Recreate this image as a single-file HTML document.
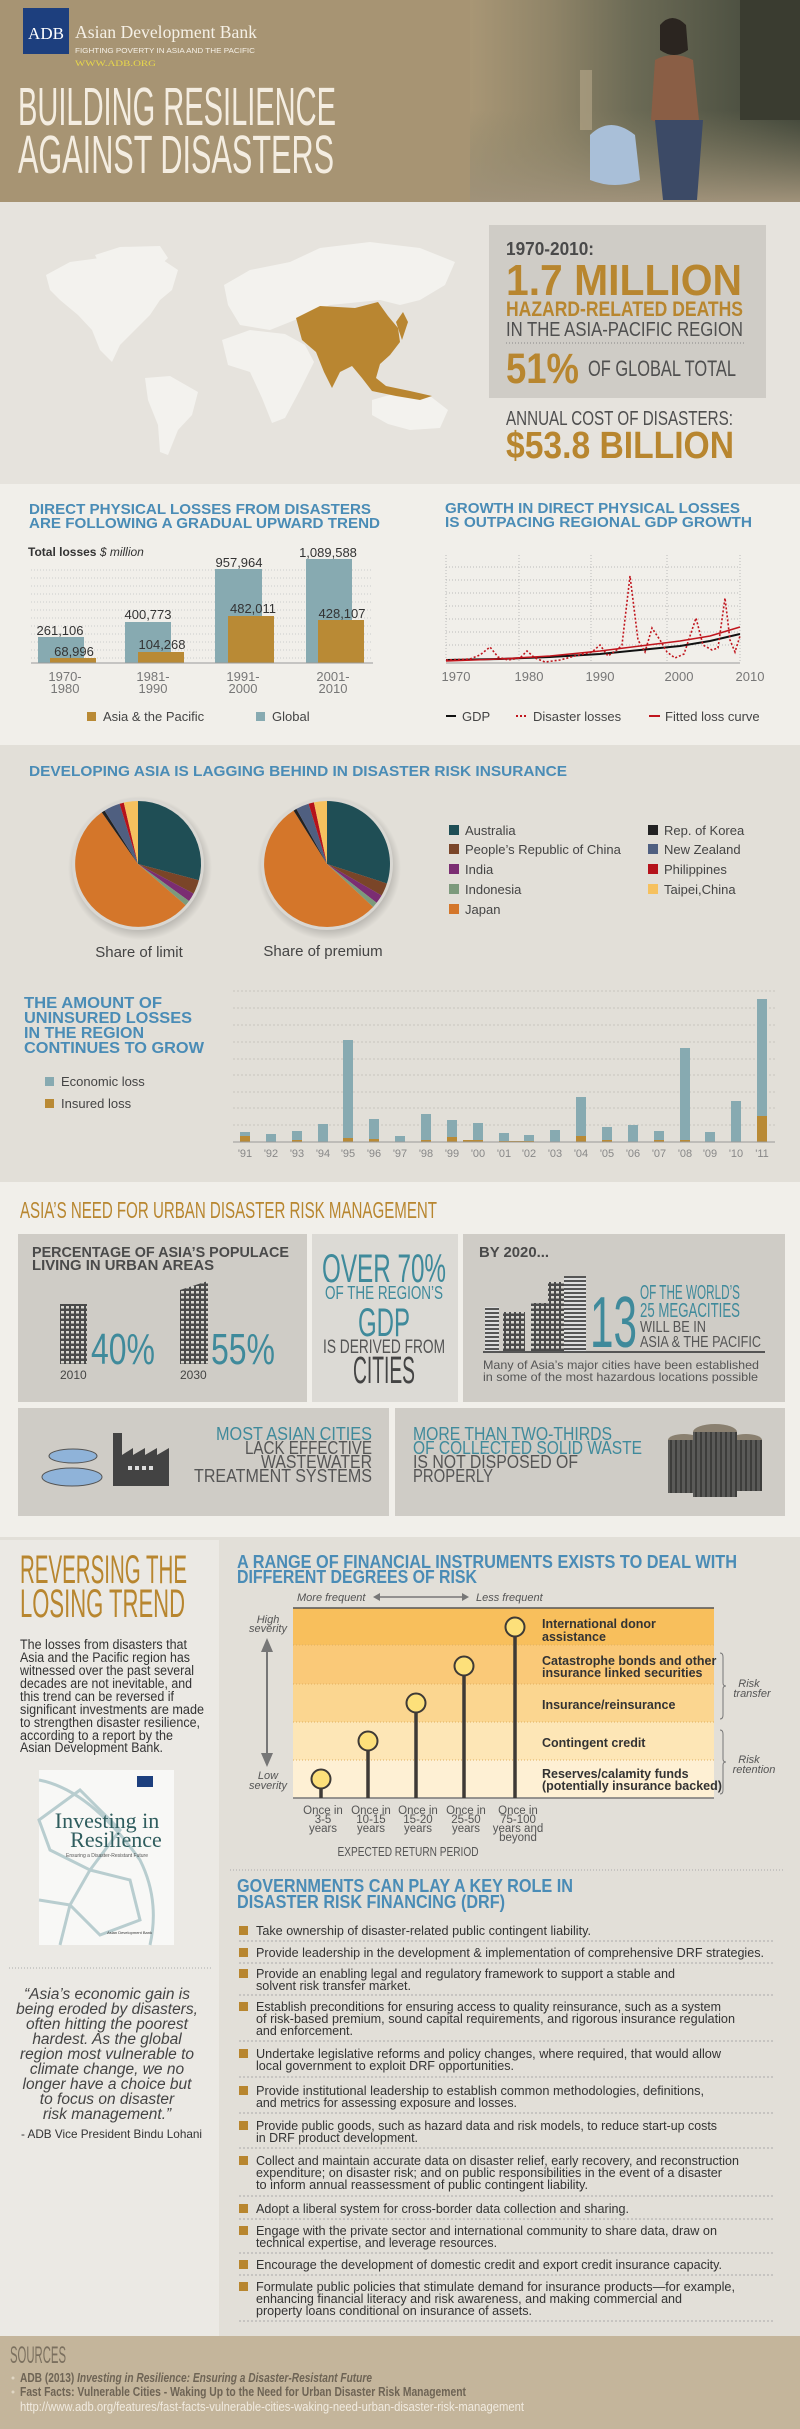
<!DOCTYPE html>
<html><head><meta charset="utf-8"><style>
html,body{margin:0;padding:0;background:#e6e3dd}
svg{display:block}
text{font-family:"Liberation Sans Narrow","Liberation Sans",sans-serif}
.b{font-weight:bold}
.blue{fill:#4a8cb6}
.teal{fill:#3f8a9b}
.gold{fill:#b8862f}
.g{fill:#555}
</style></head><body>
<svg width="800" height="2429" viewBox="0 0 800 2429" xmlns="http://www.w3.org/2000/svg">
<defs>
<linearGradient id="ph" x1="0" x2="1" y1="0" y2="0">
<stop offset="0" stop-color="#a89675"/><stop offset="0.25" stop-color="#8f8468"/><stop offset="0.5" stop-color="#6b6a55"/><stop offset="1" stop-color="#3e4438"/></linearGradient>
<linearGradient id="water" x1="0" x2="0" y1="0" y2="1"><stop offset="0" stop-color="#8a8468" stop-opacity="0"/><stop offset="1" stop-color="#a0927a"/></linearGradient>
<radialGradient id="shad"><stop offset="0.7" stop-color="#000" stop-opacity="0.35"/><stop offset="1" stop-color="#000" stop-opacity="0"/></radialGradient>
<pattern id="win" width="5" height="5" patternUnits="userSpaceOnUse"><rect width="5" height="5" fill="#4a4a4a"/><rect x="1" y="1" width="3" height="2.5" fill="#d8d6d0"/></pattern>
<pattern id="strip" width="5" height="4" patternUnits="userSpaceOnUse"><rect width="5" height="4" fill="#ddd"/><rect width="5" height="2" fill="#555"/></pattern>
<pattern id="can" width="5" height="5" patternUnits="userSpaceOnUse"><rect width="5" height="5" fill="#5a5a58"/><rect width="2" height="5" fill="#3d3d3b"/></pattern>
</defs>

<!-- HEADER -->
<rect x="0" y="0" width="800" height="202" fill="#a79473"/>
<rect x="470" y="0" width="330" height="202" fill="url(#ph)"/>
<rect x="470" y="110" width="330" height="92" fill="url(#water)"/>
<rect x="740" y="0" width="60" height="120" fill="#3a3c30"/>
<path d="M660 25 q12 -14 26 0 l2 25 q-14 10 -28 0z" fill="#2b2520"/>
<path d="M655 60 q18 -10 38 0 l6 60 q-25 10 -48 0z" fill="#8a5e45"/>
<path d="M655 120 l48 0 l-6 80 l-34 0z" fill="#3c4a66"/>
<path d="M590 135 q20 -20 45 0 l5 45 q-25 10 -50 0z" fill="#a9bfd8"/>
<rect x="580" y="70" width="12" height="60" fill="#b8a88a" opacity="0.6"/>
<rect x="23" y="8" width="46" height="46" fill="#1d3f7e"/>
<text x="46" y="39" style="font-family:'Liberation Serif',serif" font-size="17" fill="#fff" text-anchor="middle">ADB</text>
<text x="75" y="38" style="font-family:'Liberation Serif',serif" font-size="18" fill="#f5f0e6" textLength="182" lengthAdjust="spacingAndGlyphs">Asian Development Bank</text>
<text x="75" y="53" font-size="7.5" fill="#f5f0e6" textLength="180" lengthAdjust="spacingAndGlyphs">FIGHTING POVERTY IN ASIA AND THE PACIFIC</text>
<text x="75" y="66" style="font-family:'Liberation Serif',serif" font-size="8" fill="#e8d84a" textLength="81" lengthAdjust="spacingAndGlyphs">WWW.ADB.ORG</text>
<text x="18" y="125" font-size="54" fill="#f4ede1" textLength="318" lengthAdjust="spacingAndGlyphs">BUILDING RESILIENCE</text>
<text x="18" y="173" font-size="54" fill="#f4ede1" textLength="316" lengthAdjust="spacingAndGlyphs">AGAINST DISASTERS</text>

<!-- MAP SECTION -->
<rect x="0" y="202" width="800" height="282" fill="#e6e3dd"/>
<g fill="#f3f2ee">
<path d="M46 275 L70 262 L100 258 L130 262 L160 258 L178 270 L172 290 L160 300 L150 315 L135 330 L120 345 L112 362 L100 350 L92 330 L78 315 L60 300 L50 290z"/>
<path d="M95 255 L120 247 L160 246 L168 258 L150 275 L125 285 L105 275z"/>
<path d="M145 378 L170 376 L198 392 L192 415 L178 430 L168 455 L160 452 L158 425 L148 400z"/>
<path d="M224 285 L250 270 L290 262 L320 248 L370 242 L420 248 L455 262 L445 285 L420 300 L400 305 L380 300 L330 305 L300 318 L270 330 L240 325 L228 305z"/>
<path d="M222 340 L250 330 L285 334 L305 345 L314 362 L300 390 L285 418 L272 423 L262 398 L250 372 L228 365z"/>
<path d="M372 400 L400 392 L430 396 L448 410 L440 428 L410 430 L388 424 L372 415z"/>
</g>
<path d="M296 318 L320 306 L355 308 L378 302 L388 316 L398 328 L400 342 L390 355 L380 364 L376 378 L386 386 L410 391 L432 396 L420 400 L396 396 L372 391 L362 378 L352 366 L340 372 L332 388 L324 372 L316 352 L302 340z" fill="#b98631"/>
<path d="M396 322 L403 312 L408 322 L402 340z" fill="#b98631"/>
<rect x="489" y="225" width="277" height="173" fill="#cfccc6"/>
<text x="506" y="255" font-size="18" class="b" fill="#4a4a4a" textLength="88" lengthAdjust="spacingAndGlyphs">1970-2010:</text>
<text x="506" y="295" font-size="44" class="b gold" textLength="236" lengthAdjust="spacingAndGlyphs">1.7 MILLION</text>
<text x="506" y="316" font-size="21" class="b gold" textLength="237" lengthAdjust="spacingAndGlyphs">HAZARD-RELATED DEATHS</text>
<text x="506" y="336" font-size="20" fill="#4f4f4f" textLength="237" lengthAdjust="spacingAndGlyphs">IN THE ASIA-PACIFIC REGION</text>
<line x1="506" y1="343" x2="745" y2="343" stroke="#888" stroke-dasharray="1,2"/>
<text x="506" y="383" font-size="43" class="b gold" textLength="73" lengthAdjust="spacingAndGlyphs">51%</text>
<text x="588" y="376" font-size="22" fill="#4f4f4f" textLength="148" lengthAdjust="spacingAndGlyphs">OF GLOBAL TOTAL</text>
<text x="506" y="425" font-size="20" fill="#4f4f4f" textLength="227" lengthAdjust="spacingAndGlyphs">ANNUAL COST OF DISASTERS:</text>
<text x="506" y="458" font-size="38" class="b gold" textLength="228" lengthAdjust="spacingAndGlyphs">$53.8 BILLION</text>

<!-- CHARTS SECTION -->
<rect x="0" y="484" width="800" height="261" fill="#f1efea"/>
<text x="29" y="514" font-size="15" class="b blue" textLength="342" lengthAdjust="spacingAndGlyphs">DIRECT PHYSICAL LOSSES FROM DISASTERS</text>
<text x="29" y="528" font-size="15" class="b blue" textLength="351" lengthAdjust="spacingAndGlyphs">ARE FOLLOWING A GRADUAL UPWARD TREND</text>
<text x="445" y="513" font-size="15" class="b blue" textLength="295" lengthAdjust="spacingAndGlyphs">GROWTH IN DIRECT PHYSICAL LOSSES</text>
<text x="445" y="527" font-size="15" class="b blue" textLength="307" lengthAdjust="spacingAndGlyphs">IS OUTPACING REGIONAL GDP GROWTH</text>
<text x="28" y="556" font-size="12" class="b" fill="#333">Total losses <tspan font-style="italic" font-weight="normal">$ million</tspan></text>
<g stroke="#ccc" stroke-dasharray="1,2">
<line x1="31" x2="373" y1="570" y2="570"/><line x1="31" x2="373" y1="578" y2="578"/><line x1="31" x2="373" y1="586" y2="586"/><line x1="31" x2="373" y1="594" y2="594"/><line x1="31" x2="373" y1="602" y2="602"/><line x1="31" x2="373" y1="610" y2="610"/><line x1="31" x2="373" y1="618" y2="618"/><line x1="31" x2="373" y1="626" y2="626"/><line x1="31" x2="373" y1="634" y2="634"/><line x1="31" x2="373" y1="642" y2="642"/><line x1="31" x2="373" y1="650" y2="650"/><line x1="31" x2="373" y1="658" y2="658"/>
</g>
<g fill="#87aab1"><rect x="38" y="637" width="46" height="26"/><rect x="125" y="622" width="46" height="41"/><rect x="215" y="569" width="47" height="94"/><rect x="306" y="559" width="46" height="104"/></g>
<g fill="#b98a35"><rect x="50" y="658" width="46" height="5"/><rect x="138" y="652" width="46" height="11"/><rect x="228" y="616" width="46" height="47"/><rect x="318" y="620" width="46" height="43"/></g>
<line x1="31" x2="373" y1="663" y2="663" stroke="#999"/>
<g font-size="13" fill="#333" text-anchor="middle">
<text x="60" y="635">261,106</text><text x="74" y="656">68,996</text><text x="148" y="619">400,773</text><text x="162" y="649">104,268</text><text x="239" y="567">957,964</text><text x="253" y="613">482,011</text><text x="328" y="557">1,089,588</text><text x="342" y="618">428,107</text>
</g>
<g font-size="13" fill="#777" text-anchor="middle">
<text x="65" y="681">1970-</text><text x="65" y="693">1980</text><text x="153" y="681">1981-</text><text x="153" y="693">1990</text><text x="243" y="681">1991-</text><text x="243" y="693">2000</text><text x="333" y="681">2001-</text><text x="333" y="693">2010</text>
</g>
<rect x="87" y="712" width="9" height="9" fill="#b98a35"/><text x="103" y="721" font-size="13" fill="#444">Asia &amp; the Pacific</text>
<rect x="256" y="712" width="9" height="9" fill="#87aab1"/><text x="272" y="721" font-size="13" fill="#444">Global</text>
<g stroke="#bbb" stroke-dasharray="1,2">
<line x1="446" x2="740" y1="567" y2="567"/><line x1="446" x2="740" y1="580" y2="580"/><line x1="446" x2="740" y1="593" y2="593"/><line x1="446" x2="740" y1="606" y2="606"/><line x1="446" x2="740" y1="619" y2="619"/><line x1="446" x2="740" y1="632" y2="632"/><line x1="446" x2="740" y1="645" y2="645"/>
<line x1="446" x2="446" y1="555" y2="663"/><line x1="519" x2="519" y1="555" y2="663"/><line x1="591" x2="591" y1="555" y2="663"/><line x1="667" x2="667" y1="555" y2="663"/><line x1="740" x2="740" y1="555" y2="663"/>
</g>
<line x1="446" x2="740" y1="663" y2="663" stroke="#999"/>
<path d="M446 660 L500 659 L550 657 L600 654 L640 650 L680 646 L710 641 L740 634" fill="none" stroke="#111" stroke-width="2"/>
<path d="M446 661 L500 659 L550 656 L600 651 L640 646 L680 641 L710 636 L740 627" fill="none" stroke="#c0151d" stroke-width="1.6"/>
<path d="M446 660 L470 659 L480 655 L490 647 L498 657 L508 660 L520 658 L527 651 L535 658 L545 662 L560 660 L575 656 L592 652 L600 645 L608 656 L618 649 L622 645 L630 576 L638 640 L645 652 L652 628 L660 640 L667 652 L675 658 L684 654 L696 618 L703 645 L712 650 L718 648 L725 598 L730 640 L735 652 L740 636" fill="none" stroke="#c0151d" stroke-width="1.6" stroke-dasharray="2,2"/>
<g font-size="13" fill="#777" text-anchor="middle"><text x="456" y="681">1970</text><text x="529" y="681">1980</text><text x="600" y="681">1990</text><text x="679" y="681">2000</text><text x="750" y="681">2010</text></g>
<line x1="446" x2="456" y1="716" y2="716" stroke="#111" stroke-width="2"/><text x="462" y="721" font-size="13" fill="#444">GDP</text>
<line x1="516" x2="527" y1="716" y2="716" stroke="#c0151d" stroke-width="2" stroke-dasharray="2,2"/><text x="533" y="721" font-size="13" fill="#444">Disaster losses</text>
<line x1="649" x2="660" y1="716" y2="716" stroke="#c0151d" stroke-width="2"/><text x="665" y="721" font-size="13" fill="#444">Fitted loss curve</text>

<!-- INSURANCE SECTION -->
<rect x="0" y="745" width="800" height="437" fill="#e2dfd8"/>
<text x="29" y="776" font-size="15" class="b blue" textLength="538" lengthAdjust="spacingAndGlyphs">DEVELOPING ASIA IS LAGGING BEHIND IN DISASTER RISK INSURANCE</text>
<circle cx="140" cy="868" r="72" fill="url(#shad)"/>
<circle cx="329" cy="868" r="72" fill="url(#shad)"/>
<circle cx="138" cy="864" r="66" fill="#d9d7d2"/>
<circle cx="327" cy="864" r="66" fill="#d9d7d2"/>
<g>
<path d="M138 864 L138 801 A63 63 0 0 1 198.9 880.3Z" fill="#1f4e55"/>
<path d="M138 864 L198.9 880.3 A63 63 0 0 1 193.6 893.6Z" fill="#7a4528"/>
<path d="M138 864 L193.6 893.6 A63 63 0 0 1 189 901Z" fill="#7b2d72"/>
<path d="M138 864 L189 901 A63 63 0 0 1 185.6 905.3Z" fill="#7c9a7c"/>
<path d="M138 864 L185.6 905.3 A63 63 0 1 1 101.8 812.4Z" fill="#d4762a"/>
<path d="M138 864 L101.8 812.4 A63 63 0 0 1 104.6 810.6Z" fill="#222"/>
<path d="M138 864 L104.6 810.6 A63 63 0 0 1 119.6 803.8Z" fill="#4f5f80"/>
<path d="M138 864 L119.6 803.8 A63 63 0 0 1 123.8 802.6Z" fill="#b5121b"/>
<path d="M138 864 L123.8 802.6 A63 63 0 0 1 138 801Z" fill="#f6c15e"/>
</g>
<g>
<path d="M327 864 L327 801 A63 63 0 0 1 386.9 883.5Z" fill="#1f4e55"/>
<path d="M327 864 L386.9 883.5 A63 63 0 0 1 381.6 895.5Z" fill="#7a4528"/>
<path d="M327 864 L381.6 895.5 A63 63 0 0 1 376.6 902.8Z" fill="#7b2d72"/>
<path d="M327 864 L376.6 902.8 A63 63 0 0 1 373.1 907Z" fill="#7c9a7c"/>
<path d="M327 864 L373.1 907 A63 63 0 1 1 293.6 810.6Z" fill="#d4762a"/>
<path d="M327 864 L293.6 810.6 A63 63 0 0 1 296.4 808.9Z" fill="#222"/>
<path d="M327 864 L296.4 808.9 A63 63 0 0 1 308.6 803.8Z" fill="#4f5f80"/>
<path d="M327 864 L308.6 803.8 A63 63 0 0 1 313.9 802.4Z" fill="#b5121b"/>
<path d="M327 864 L313.9 802.4 A63 63 0 0 1 327 801Z" fill="#f6c15e"/>
</g>
<text x="139" y="957" font-size="15" fill="#444" text-anchor="middle">Share of limit</text>
<text x="323" y="956" font-size="15" fill="#444" text-anchor="middle">Share of premium</text>
<g font-size="13" fill="#444">
<rect x="449" y="825" width="10" height="10" fill="#1f4e55"/><text x="465" y="835">Australia</text>
<rect x="449" y="844" width="10" height="10" fill="#7a4528"/><text x="465" y="854">People’s Republic of China</text>
<rect x="449" y="864" width="10" height="10" fill="#7b2d72"/><text x="465" y="874">India</text>
<rect x="449" y="884" width="10" height="10" fill="#7c9a7c"/><text x="465" y="894">Indonesia</text>
<rect x="449" y="904" width="10" height="10" fill="#d4762a"/><text x="465" y="914">Japan</text>
<rect x="648" y="825" width="10" height="10" fill="#222"/><text x="664" y="835">Rep. of Korea</text>
<rect x="648" y="844" width="10" height="10" fill="#4f5f80"/><text x="664" y="854">New Zealand</text>
<rect x="648" y="864" width="10" height="10" fill="#b5121b"/><text x="664" y="874">Philippines</text>
<rect x="648" y="884" width="10" height="10" fill="#f6c15e"/><text x="664" y="894">Taipei,China</text>
</g>
<text x="24" y="1008" font-size="16" class="b blue" textLength="138" lengthAdjust="spacingAndGlyphs">THE AMOUNT OF</text>
<text x="24" y="1023" font-size="16" class="b blue" textLength="168" lengthAdjust="spacingAndGlyphs">UNINSURED LOSSES</text>
<text x="24" y="1038" font-size="16" class="b blue" textLength="120" lengthAdjust="spacingAndGlyphs">IN THE REGION</text>
<text x="24" y="1053" font-size="16" class="b blue" textLength="180" lengthAdjust="spacingAndGlyphs">CONTINUES TO GROW</text>
<rect x="45" y="1077" width="9" height="9" fill="#87aab1"/><text x="61" y="1086" font-size="13" fill="#444">Economic loss</text>
<rect x="45" y="1099" width="9" height="9" fill="#b98a35"/><text x="61" y="1108" font-size="13" fill="#444">Insured loss</text>
<g stroke="#c8c5be" stroke-dasharray="2,2">
<line x1="233" x2="775" y1="991" y2="991"/><line x1="233" x2="775" y1="1008" y2="1008"/><line x1="233" x2="775" y1="1025" y2="1025"/><line x1="233" x2="775" y1="1042" y2="1042"/><line x1="233" x2="775" y1="1059" y2="1059"/><line x1="233" x2="775" y1="1075" y2="1075"/><line x1="233" x2="775" y1="1092" y2="1092"/><line x1="233" x2="775" y1="1108" y2="1108"/><line x1="233" x2="775" y1="1125" y2="1125"/>
</g>
<g fill="#87aab1">
<rect x="240" y="1132" width="10" height="10"/><rect x="266" y="1134" width="10" height="8"/><rect x="292" y="1131" width="10" height="11"/><rect x="318" y="1124" width="10" height="18"/><rect x="343" y="1040" width="10" height="102"/><rect x="369" y="1119" width="10" height="23"/><rect x="395" y="1136" width="10" height="6"/><rect x="421" y="1114" width="10" height="28"/><rect x="447" y="1120" width="10" height="22"/><rect x="473" y="1123" width="10" height="19"/><rect x="499" y="1133" width="10" height="9"/><rect x="524" y="1135" width="10" height="7"/><rect x="550" y="1130" width="10" height="12"/><rect x="576" y="1097" width="10" height="45"/><rect x="602" y="1127" width="10" height="15"/><rect x="628" y="1125" width="10" height="17"/><rect x="654" y="1131" width="10" height="11"/><rect x="680" y="1048" width="10" height="94"/><rect x="705" y="1132" width="10" height="10"/><rect x="731" y="1101" width="10" height="41"/><rect x="757" y="999" width="10" height="143"/>
</g>
<g fill="#b98a35">
<rect x="240" y="1136" width="10" height="6"/><rect x="292" y="1140" width="10" height="2"/><rect x="343" y="1138" width="10" height="4"/><rect x="369" y="1139" width="10" height="3"/><rect x="421" y="1140" width="10" height="2"/><rect x="447" y="1137" width="10" height="5"/><rect x="463" y="1140" width="20" height="2"/><rect x="499" y="1141" width="35" height="1.5"/><rect x="576" y="1136" width="10" height="6"/><rect x="602" y="1140" width="10" height="2"/><rect x="654" y="1140" width="10" height="2"/><rect x="680" y="1140" width="10" height="2"/><rect x="757" y="1116" width="10" height="26"/>
</g>
<line x1="233" x2="775" y1="1142" y2="1142" stroke="#999"/>
<g font-size="11" fill="#888" text-anchor="middle">
<text x="245" y="1157">'91</text><text x="271" y="1157">'92</text><text x="297" y="1157">'93</text><text x="323" y="1157">'94</text><text x="348" y="1157">'95</text><text x="374" y="1157">'96</text><text x="400" y="1157">'97</text><text x="426" y="1157">'98</text><text x="452" y="1157">'99</text><text x="478" y="1157">'00</text><text x="504" y="1157">'01</text><text x="529" y="1157">'02</text><text x="555" y="1157">'03</text><text x="581" y="1157">'04</text><text x="607" y="1157">'05</text><text x="633" y="1157">'06</text><text x="659" y="1157">'07</text><text x="685" y="1157">'08</text><text x="710" y="1157">'09</text><text x="736" y="1157">'10</text><text x="762" y="1157">'11</text>
</g>

<!-- URBAN SECTION -->
<rect x="0" y="1182" width="800" height="355" fill="#f1efea"/>
<text x="20" y="1218" font-size="23" class="gold" textLength="417" lengthAdjust="spacingAndGlyphs">ASIA’S NEED FOR URBAN DISASTER RISK MANAGEMENT</text>
<rect x="18" y="1234" width="289" height="168" fill="#cfccc6"/>
<rect x="312" y="1234" width="146" height="168" fill="#dcdad5"/>
<rect x="463" y="1234" width="322" height="168" fill="#cfccc6"/>
<rect x="18" y="1408" width="371" height="108" fill="#cfccc6"/>
<rect x="395" y="1408" width="390" height="108" fill="#cfccc6"/>
<text x="32" y="1257" font-size="15" class="b" fill="#4a4a4a" textLength="257" lengthAdjust="spacingAndGlyphs">PERCENTAGE OF ASIA’S POPULACE</text>
<text x="32" y="1270" font-size="15" class="b" fill="#4a4a4a" textLength="182" lengthAdjust="spacingAndGlyphs">LIVING IN URBAN AREAS</text>
<rect x="60" y="1304" width="27" height="60" fill="url(#win)"/>
<path d="M180 1290 L208 1281 L208 1364 L180 1364Z" fill="url(#win)"/>
<text x="91" y="1364" font-size="44" class="teal" textLength="64" lengthAdjust="spacingAndGlyphs">40%</text>
<text x="211" y="1364" font-size="44" class="teal" textLength="64" lengthAdjust="spacingAndGlyphs">55%</text>
<text x="60" y="1379" font-size="12" fill="#444">2010</text><text x="180" y="1379" font-size="12" fill="#444">2030</text>
<text x="384" y="1282" font-size="40" class="teal" text-anchor="middle" textLength="124" lengthAdjust="spacingAndGlyphs">OVER 70%</text>
<text x="384" y="1299" font-size="18" class="teal" text-anchor="middle" textLength="118" lengthAdjust="spacingAndGlyphs">OF THE REGION’S</text>
<text x="384" y="1336" font-size="40" class="teal" text-anchor="middle" textLength="52" lengthAdjust="spacingAndGlyphs">GDP</text>
<text x="384" y="1353" font-size="19" fill="#555" text-anchor="middle" textLength="122" lengthAdjust="spacingAndGlyphs">IS DERIVED FROM</text>
<text x="384" y="1383" font-size="38" fill="#444" text-anchor="middle" textLength="62" lengthAdjust="spacingAndGlyphs">CITIES</text>
<text x="479" y="1257" font-size="15" class="b" fill="#4a4a4a" textLength="70" lengthAdjust="spacingAndGlyphs">BY 2020...</text>
<rect x="485" y="1307" width="14" height="45" fill="url(#strip)"/>
<rect x="503" y="1312" width="22" height="40" fill="url(#win)"/>
<rect x="531" y="1303" width="17" height="49" fill="url(#win)"/>
<rect x="548" y="1282" width="16" height="70" fill="url(#win)"/>
<rect x="564" y="1276" width="22" height="76" fill="url(#strip)"/>
<line x1="483" x2="765" y1="1352" y2="1352" stroke="#555" stroke-width="2"/>
<text x="590" y="1347" font-size="72" class="teal" textLength="47" lengthAdjust="spacingAndGlyphs">13</text>
<text x="640" y="1299" font-size="20" class="teal" textLength="100" lengthAdjust="spacingAndGlyphs">OF THE WORLD’S</text>
<text x="640" y="1317" font-size="20" class="teal" textLength="100" lengthAdjust="spacingAndGlyphs">25 MEGACITIES</text>
<text x="640" y="1332" font-size="16" fill="#555" textLength="66" lengthAdjust="spacingAndGlyphs">WILL BE IN</text>
<text x="640" y="1347" font-size="16" fill="#555" textLength="121" lengthAdjust="spacingAndGlyphs">ASIA &amp; THE PACIFIC</text>
<text x="483" y="1369" font-size="12" fill="#555" textLength="276" lengthAdjust="spacingAndGlyphs">Many of Asia’s major cities have been established</text>
<text x="483" y="1381" font-size="12" fill="#555" textLength="275" lengthAdjust="spacingAndGlyphs">in some of the most hazardous locations possible</text>
<ellipse cx="73" cy="1456" rx="24" ry="7" fill="#8fb3d9" stroke="#555" stroke-width="1"/>
<ellipse cx="72" cy="1477" rx="30" ry="9" fill="#8fb3d9" stroke="#555" stroke-width="1"/>
<path d="M113 1433 L122 1433 L122 1455 L133 1448 L133 1455 L145 1448 L145 1455 L157 1448 L157 1455 L169 1448 L169 1486 L113 1486Z" fill="#434343"/>
<rect x="128" y="1466" width="4" height="4" fill="#ddd"/><rect x="135" y="1466" width="4" height="4" fill="#ddd"/><rect x="142" y="1466" width="4" height="4" fill="#ddd"/><rect x="149" y="1466" width="4" height="4" fill="#ddd"/>
<text x="372" y="1440" font-size="18" class="teal" text-anchor="end" textLength="156" lengthAdjust="spacingAndGlyphs">MOST ASIAN CITIES</text>
<text x="372" y="1454" font-size="18" fill="#555" text-anchor="end" textLength="127" lengthAdjust="spacingAndGlyphs">LACK EFFECTIVE</text>
<text x="372" y="1468" font-size="18" fill="#555" text-anchor="end" textLength="111" lengthAdjust="spacingAndGlyphs">WASTEWATER</text>
<text x="372" y="1482" font-size="18" fill="#555" text-anchor="end" textLength="178" lengthAdjust="spacingAndGlyphs">TREATMENT SYSTEMS</text>
<text x="413" y="1440" font-size="18" class="teal" textLength="199" lengthAdjust="spacingAndGlyphs">MORE THAN TWO-THIRDS</text>
<text x="413" y="1454" font-size="18" class="teal" textLength="229" lengthAdjust="spacingAndGlyphs">OF COLLECTED SOLID WASTE</text>
<text x="413" y="1468" font-size="18" fill="#555" textLength="165" lengthAdjust="spacingAndGlyphs">IS NOT DISPOSED OF</text>
<text x="413" y="1482" font-size="18" fill="#555" textLength="80" lengthAdjust="spacingAndGlyphs">PROPERLY</text>
<ellipse cx="684" cy="1440" rx="16" ry="6" fill="#8a8070"/>
<ellipse cx="746" cy="1440" rx="16" ry="6" fill="#8a8070"/>
<rect x="668" y="1440" width="32" height="53" fill="url(#can)"/>
<rect x="730" y="1440" width="32" height="51" fill="url(#can)"/>
<ellipse cx="715" cy="1432" rx="22" ry="8" fill="#8a8070"/>
<rect x="693" y="1432" width="44" height="65" fill="url(#can)"/>

<!-- REVERSING SECTION -->
<rect x="0" y="1537" width="800" height="800" fill="#e2dfd8"/>
<rect x="0" y="1540" width="219" height="797" fill="#ebe9e4"/>
<text x="20" y="1583" font-size="40" class="gold" textLength="167" lengthAdjust="spacingAndGlyphs">REVERSING THE</text>
<text x="20" y="1617" font-size="40" class="gold" textLength="165" lengthAdjust="spacingAndGlyphs">LOSING TREND</text>
<g font-size="13.5" fill="#333">
<text x="20" y="1649" textLength="167" lengthAdjust="spacingAndGlyphs">The losses from disasters that</text>
<text x="20" y="1662" textLength="170" lengthAdjust="spacingAndGlyphs">Asia and the Pacific region has</text>
<text x="20" y="1675" textLength="174" lengthAdjust="spacingAndGlyphs">witnessed over the past several</text>
<text x="20" y="1688" textLength="172" lengthAdjust="spacingAndGlyphs">decades are not inevitable, and</text>
<text x="20" y="1701" textLength="154" lengthAdjust="spacingAndGlyphs">this trend can be reversed if</text>
<text x="20" y="1714" textLength="184" lengthAdjust="spacingAndGlyphs">significant investments are made</text>
<text x="20" y="1727" textLength="180" lengthAdjust="spacingAndGlyphs">to strengthen disaster resilience,</text>
<text x="20" y="1740" textLength="153" lengthAdjust="spacingAndGlyphs">according to a report by the</text>
<text x="20" y="1752" textLength="143" lengthAdjust="spacingAndGlyphs">Asian Development Bank.</text>
</g>
<rect x="39" y="1770" width="135" height="175" fill="#f8f8f6"/>
<g fill="none" stroke="#a9c3c6" stroke-width="3" opacity="0.8">
<path d="M39 1780 Q90 1790 140 1860 Q160 1900 150 1945"/>
<path d="M39 1820 L80 1790 L120 1830 L90 1870 L50 1850Z"/>
<path d="M90 1870 L130 1880 L140 1920 L100 1935 L70 1905Z"/>
<path d="M39 1900 L70 1905 L60 1945"/>
</g>
<rect x="137" y="1776" width="16" height="11" fill="#1d3f7e"/>
<text x="107" y="1828" style="font-family:'Liberation Serif',serif" font-size="22" fill="#2f5d5e" text-anchor="middle">Investing in</text>
<text x="116" y="1847" style="font-family:'Liberation Serif',serif" font-size="22" fill="#2f5d5e" text-anchor="middle">Resilience</text>
<text x="107" y="1857" font-size="5" fill="#555" text-anchor="middle">Ensuring a Disaster-Resistant Future</text>
<text x="152" y="1934" font-size="4" fill="#333" text-anchor="end">Asian Development Bank</text>
<line x1="9" x2="213" y1="1968" y2="1968" stroke="#aaa" stroke-dasharray="1,2"/>
<g font-size="15.5" font-style="italic" fill="#444" text-anchor="middle">
<text x="107" y="1999">“Asia’s economic gain is</text>
<text x="107" y="2014">being eroded by disasters,</text>
<text x="107" y="2029">often hitting the poorest</text>
<text x="107" y="2044">hardest. As the global</text>
<text x="107" y="2059">region most vulnerable to</text>
<text x="107" y="2074">climate change, we no</text>
<text x="107" y="2089">longer have a choice but</text>
<text x="107" y="2104">to focus on disaster</text>
<text x="107" y="2119">risk management.”</text>
</g>
<text x="21" y="2138" font-size="12" fill="#333" textLength="181" lengthAdjust="spacingAndGlyphs">- ADB Vice President Bindu Lohani</text>

<text x="237" y="1568" font-size="18" class="b blue" textLength="500" lengthAdjust="spacingAndGlyphs">A RANGE OF FINANCIAL INSTRUMENTS EXISTS TO DEAL WITH</text>
<text x="237" y="1583" font-size="18" class="b blue" textLength="240" lengthAdjust="spacingAndGlyphs">DIFFERENT DEGREES OF RISK</text>
<text x="297" y="1601" font-size="11" font-style="italic" fill="#555">More frequent</text>
<text x="476" y="1601" font-size="11" font-style="italic" fill="#555">Less frequent</text>
<line x1="378" x2="464" y1="1597" y2="1597" stroke="#777" stroke-width="1.5"/>
<path d="M373 1597 L380 1593 L380 1601Z M469 1597 L462 1593 L462 1601Z" fill="#777"/>
<rect x="293" y="1608" width="421" height="37" fill="#f8bf5c"/>
<rect x="293" y="1645" width="421" height="39" fill="#fac978"/>
<rect x="293" y="1684" width="421" height="38" fill="#fbd690"/>
<rect x="293" y="1722" width="421" height="38" fill="#fde6b6"/>
<rect x="293" y="1760" width="421" height="38" fill="#fef0d4"/>
<g stroke="#e0b060" stroke-dasharray="1,2"><line x1="293" x2="714" y1="1645" y2="1645"/><line x1="293" x2="714" y1="1684" y2="1684"/><line x1="293" x2="714" y1="1722" y2="1722"/><line x1="293" x2="714" y1="1760" y2="1760"/></g>
<line x1="293" x2="714" y1="1608" y2="1608" stroke="#555" stroke-width="1.5"/>
<line x1="293" x2="714" y1="1798" y2="1798" stroke="#777" stroke-width="1.5"/>
<g stroke="#3e3a36" stroke-width="3.5"><line x1="321" x2="321" y1="1779" y2="1798"/><line x1="368" x2="368" y1="1741" y2="1798"/><line x1="416" x2="416" y1="1703" y2="1798"/><line x1="464" x2="464" y1="1666" y2="1798"/><line x1="515" x2="515" y1="1627" y2="1798"/></g>
<g fill="#fde07a" stroke="#3e3a36" stroke-width="2"><circle cx="321" cy="1779" r="9.5"/><circle cx="368" cy="1741" r="9.5"/><circle cx="416" cy="1703" r="9.5"/><circle cx="464" cy="1666" r="9.5"/><circle cx="515" cy="1627" r="9.5"/></g>
<g font-size="12.5" class="b" fill="#333">
<text x="542" y="1628">International donor</text><text x="542" y="1641">assistance</text>
<text x="542" y="1665">Catastrophe bonds and other</text><text x="542" y="1677">insurance linked securities</text>
<text x="542" y="1709">Insurance/reinsurance</text>
<text x="542" y="1747">Contingent credit</text>
<text x="542" y="1778">Reserves/calamity funds</text><text x="542" y="1790">(potentially insurance backed)</text>
</g>
<line x1="267" x2="267" y1="1648" y2="1757" stroke="#777" stroke-width="2"/>
<path d="M267 1638 L261 1652 L273 1652Z M267 1767 L261 1753 L273 1753Z" fill="#777"/>
<g font-size="11" font-style="italic" fill="#555" text-anchor="middle"><text x="268" y="1623">High</text><text x="268" y="1632">severity</text><text x="268" y="1779">Low</text><text x="268" y="1789">severity</text>
<text x="749" y="1687">Risk</text><text x="752" y="1697">transfer</text><text x="749" y="1763">Risk</text><text x="754" y="1773">retention</text></g>
<path d="M720 1653 q3 0 3 4 v26 q0 3 3 3 q-3 0 -3 3 v26 q0 4 -3 4" fill="none" stroke="#777"/>
<path d="M720 1730 q3 0 3 4 v25 q0 3 3 3 q-3 0 -3 3 v25 q0 4 -3 4" fill="none" stroke="#777"/>
<g font-size="11.5" fill="#555" text-anchor="middle">
<text x="323" y="1814">Once in</text><text x="323" y="1823">3-5</text><text x="323" y="1832">years</text>
<text x="371" y="1814">Once in</text><text x="371" y="1823">10-15</text><text x="371" y="1832">years</text>
<text x="418" y="1814">Once in</text><text x="418" y="1823">15-20</text><text x="418" y="1832">years</text>
<text x="466" y="1814">Once in</text><text x="466" y="1823">25-50</text><text x="466" y="1832">years</text>
<text x="518" y="1814">Once in</text><text x="518" y="1823">75-100</text><text x="518" y="1832">years and</text><text x="518" y="1841">beyond</text>
<text x="408" y="1856" font-size="13" textLength="141" lengthAdjust="spacingAndGlyphs">EXPECTED RETURN PERIOD</text>
</g>
<line x1="230" x2="785" y1="1870" y2="1870" stroke="#aaa" stroke-dasharray="1,2"/>
<text x="237" y="1892" font-size="18" class="b blue" textLength="336" lengthAdjust="spacingAndGlyphs">GOVERNMENTS CAN PLAY A KEY ROLE IN</text>
<text x="237" y="1908" font-size="18" class="b blue" textLength="268" lengthAdjust="spacingAndGlyphs">DISASTER RISK FINANCING (DRF)</text>
<g fill="#b8862f">
<rect x="239" y="1926" width="9" height="9"/><rect x="239" y="1948" width="9" height="9"/><rect x="239" y="1969" width="9" height="9"/><rect x="239" y="2002" width="9" height="9"/><rect x="239" y="2049" width="9" height="9"/><rect x="239" y="2086" width="9" height="9"/><rect x="239" y="2121" width="9" height="9"/><rect x="239" y="2156" width="9" height="9"/><rect x="239" y="2204" width="9" height="9"/><rect x="239" y="2226" width="9" height="9"/><rect x="239" y="2260" width="9" height="9"/><rect x="239" y="2282" width="9" height="9"/>
</g>
<g stroke="#aaa" stroke-dasharray="2,2">
<line x1="239" x2="773" y1="1941" y2="1941"/><line x1="239" x2="773" y1="1963" y2="1963"/><line x1="239" x2="773" y1="1995" y2="1995"/><line x1="239" x2="773" y1="2041" y2="2041"/><line x1="239" x2="773" y1="2077" y2="2077"/><line x1="239" x2="773" y1="2113" y2="2113"/><line x1="239" x2="773" y1="2148" y2="2148"/><line x1="239" x2="773" y1="2196" y2="2196"/><line x1="239" x2="773" y1="2219" y2="2219"/><line x1="239" x2="773" y1="2253" y2="2253"/><line x1="239" x2="773" y1="2275" y2="2275"/><line x1="239" x2="773" y1="2321" y2="2321"/>
</g>
<g font-size="12.5" fill="#333">
<text x="256" y="1935" textLength="335" lengthAdjust="spacingAndGlyphs">Take ownership of disaster-related public contingent liability.</text>
<text x="256" y="1957" textLength="508" lengthAdjust="spacingAndGlyphs">Provide leadership in the development &amp; implementation of comprehensive DRF strategies.</text>
<text x="256" y="1978" textLength="419" lengthAdjust="spacingAndGlyphs">Provide an enabling legal and regulatory framework to support a stable and</text>
<text x="256" y="1990" textLength="155" lengthAdjust="spacingAndGlyphs">solvent risk transfer market.</text>
<text x="256" y="2011" textLength="465" lengthAdjust="spacingAndGlyphs">Establish preconditions for ensuring access to quality reinsurance, such as a system</text>
<text x="256" y="2023" textLength="479" lengthAdjust="spacingAndGlyphs">of risk-based premium, sound capital requirements, and rigorous insurance regulation</text>
<text x="256" y="2035" textLength="97" lengthAdjust="spacingAndGlyphs">and enforcement.</text>
<text x="256" y="2058" textLength="465" lengthAdjust="spacingAndGlyphs">Undertake legislative reforms and policy changes, where required, that would allow</text>
<text x="256" y="2070" textLength="258" lengthAdjust="spacingAndGlyphs">local government to exploit DRF opportunities.</text>
<text x="256" y="2095" textLength="448" lengthAdjust="spacingAndGlyphs">Provide institutional leadership to establish common methodologies, definitions,</text>
<text x="256" y="2107" textLength="261" lengthAdjust="spacingAndGlyphs">and metrics for assessing exposure and losses.</text>
<text x="256" y="2130" textLength="461" lengthAdjust="spacingAndGlyphs">Provide public goods, such as hazard data and risk models, to reduce start-up costs</text>
<text x="256" y="2142" textLength="162" lengthAdjust="spacingAndGlyphs">in DRF product development.</text>
<text x="256" y="2165" textLength="483" lengthAdjust="spacingAndGlyphs">Collect and maintain accurate data on disaster relief, early recovery, and reconstruction</text>
<text x="256" y="2177" textLength="466" lengthAdjust="spacingAndGlyphs">expenditure; on disaster risk; and on public responsibilities in the event of a disaster</text>
<text x="256" y="2189" textLength="332" lengthAdjust="spacingAndGlyphs">to inform annual reassessment of public contingent liability.</text>
<text x="256" y="2213" textLength="373" lengthAdjust="spacingAndGlyphs">Adopt a liberal system for cross-border data collection and sharing.</text>
<text x="256" y="2235" textLength="461" lengthAdjust="spacingAndGlyphs">Engage with the private sector and international community to share data, draw on</text>
<text x="256" y="2247" textLength="241" lengthAdjust="spacingAndGlyphs">technical expertise, and leverage resources.</text>
<text x="256" y="2269" textLength="466" lengthAdjust="spacingAndGlyphs">Encourage the development of domestic credit and export credit insurance capacity.</text>
<text x="256" y="2291" textLength="479" lengthAdjust="spacingAndGlyphs">Formulate public policies that stimulate demand for insurance products—for example,</text>
<text x="256" y="2303" textLength="426" lengthAdjust="spacingAndGlyphs">enhancing financial literacy and risk awareness, and making commercial and</text>
<text x="256" y="2315" textLength="276" lengthAdjust="spacingAndGlyphs">property loans conditional on insurance of assets.</text>
</g>

<!-- SOURCES -->
<rect x="0" y="2336" width="800" height="93" fill="#c4b59b"/>
<text x="10" y="2363" font-size="24" fill="#7b705f" textLength="56" lengthAdjust="spacingAndGlyphs">SOURCES</text>
<circle cx="13" cy="2378" r="1.5" fill="#e0d6c4"/><circle cx="13" cy="2392" r="1.5" fill="#e0d6c4"/>
<text x="20" y="2382" font-size="12.5" class="b" fill="#6e6455" textLength="352" lengthAdjust="spacingAndGlyphs">ADB (2013) <tspan font-style="italic">Investing in Resilience: Ensuring a Disaster-Resistant Future</tspan></text>
<text x="20" y="2396" font-size="12.5" class="b" fill="#6e6455" textLength="446" lengthAdjust="spacingAndGlyphs">Fast Facts: Vulnerable Cities - Waking Up to the Need for Urban Disaster Risk Management</text>
<text x="20" y="2411" font-size="12.5" fill="#f1ebe0" textLength="504" lengthAdjust="spacingAndGlyphs">http://www.adb.org/features/fast-facts-vulnerable-cities-waking-need-urban-disaster-risk-management</text>
</svg>
</body></html>
